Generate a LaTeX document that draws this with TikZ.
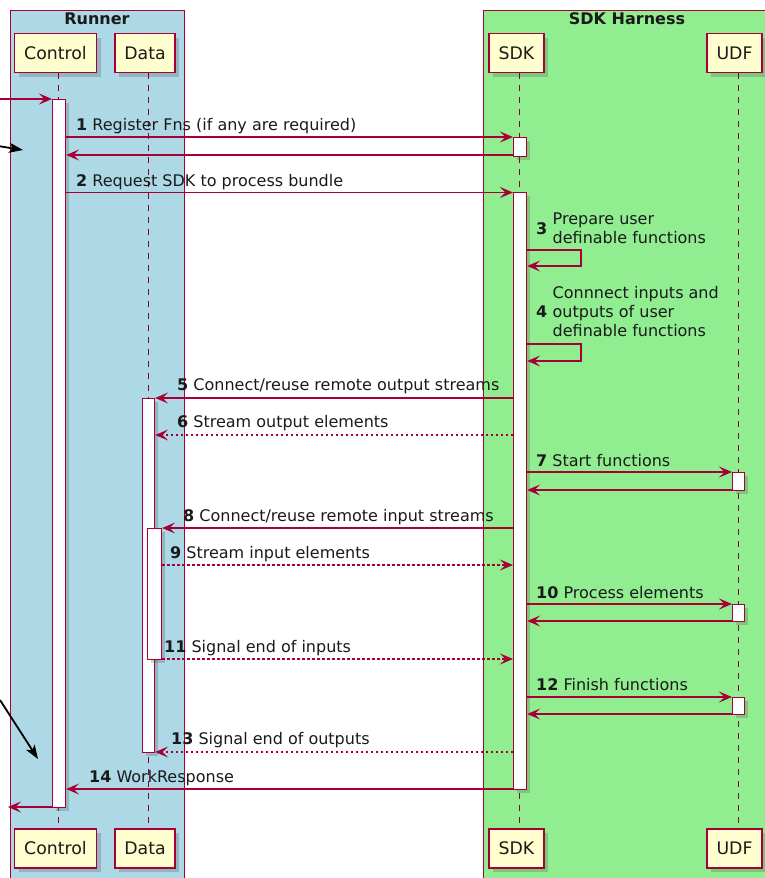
\documentclass[tikz,border=0pt]{standalone}
\usepackage{fontspec}
\setmainfont{DejaVu Sans}
\usetikzlibrary{arrows.meta,shadows}

\definecolor{umlred}{HTML}{A80036}
\definecolor{umlbox}{HTML}{FEFECE}
\definecolor{runnerbg}{HTML}{ADD8E6}
\definecolor{harnessbg}{HTML}{90EE90}
\definecolor{inktext}{HTML}{1A1A1A}

\tikzset{
  groupbox/.style={draw=umlred, line width=1pt},
  grouptitle/.style={inner sep=0pt, text=inktext, font=\bfseries\fontsize{16}{19}\selectfont},
  pbox/.style={draw=umlred, fill=umlbox, line width=1.6pt, minimum height=39pt,
    inner sep=0pt, text=inktext, font=\fontsize{17.3}{20}\selectfont,
    drop shadow={shadow xshift=4pt, shadow yshift=-4pt, opacity=0.25, fill=black!70}},
  lifeline/.style={draw=umlred!85!black, line width=1pt, dash pattern=on 6pt off 6pt},
  actbar/.style={draw=umlred, fill=white, line width=1.2pt, minimum width=13pt,
    inner sep=0pt, anchor=north west,
    drop shadow={shadow xshift=3pt, shadow yshift=-3pt, opacity=0.25, fill=black!70}},
  msg/.style={draw=umlred, line width=1.2pt,
    -{Stealth[length=13pt,width=11pt,inset=5.5pt]}},
  reply/.style={msg, dash pattern=on 2.5pt off 2.5pt},
  lbl/.style={anchor=base west, inner sep=0pt, text=inktext, font=\fontsize{16}{19}\selectfont},
  blk/.style={anchor=west, inner sep=0pt, align=left, text=inktext, font=\fontsize{16}{19}\selectfont},
  notearrow/.style={draw=black, line width=1.8pt,
    -{Stealth[length=14pt,width=10pt,inset=3.5pt]}},
}

\begin{document}
\begin{tikzpicture}[x=1pt,y=-1pt]
\useasboundingbox (0,0) rectangle (765,878);
\clip (0,0) rectangle (765,878);

% group boxes
\draw[groupbox, fill=runnerbg] (10,10) rectangle (184,900);
\draw[groupbox, fill=harnessbg] (483,10) rectangle (800,900);
\node[grouptitle] (runnertitle) at (97,19) {Runner};
\node[grouptitle] (harnesstitle) at (627,19) {SDK Harness};

% participants, top and bottom
\node[pbox, minimum width=82pt] (ctltop) at (55.5,53) {Control};
\node[pbox, minimum width=60pt] (datatop) at (145,53) {Data};
\node[pbox, minimum width=55pt] (sdktop) at (516.5,53) {SDK};
\node[pbox, minimum width=55pt] (udftop) at (734.5,53) {UDF};
\node[pbox, minimum width=82pt] (ctlbot) at (55.5,848.5) {Control};
\node[pbox, minimum width=60pt] (databot) at (145,848.5) {Data};
\node[pbox, minimum width=55pt] (sdkbot) at (516.5,848.5) {SDK};
\node[pbox, minimum width=55pt] (udfbot) at (734.5,848.5) {UDF};

% lifelines
\coordinate (ctlx) at (58.5,0);
\coordinate (datax) at (148,0);
\coordinate (sdkx) at (519.5,0);
\coordinate (udfx) at (738,0);
\draw[lifeline] (ctltop.south -| ctlx) -- (ctlbot.north -| ctlx);
\draw[lifeline] (datatop.south -| datax) -- (databot.north -| datax);
\draw[lifeline] (sdktop.south -| sdkx) -- (sdkbot.north -| sdkx);
\draw[lifeline] (udftop.south -| udfx) -- (udfbot.north -| udfx);

% activations
\node[actbar, minimum height=708pt] (ctlbar) at (52,99) {};
\node[actbar, minimum height=354pt, minimum width=12pt] (databar) at (142,398) {};
\node[actbar, minimum height=131pt, minimum width=14pt] (databarb) at (147,528) {};
\node[actbar, minimum height=19pt] (sdkbara) at (513,137) {};
\node[actbar, minimum height=597pt] (sdkbarb) at (513,192) {};
\node[actbar, minimum height=18pt, minimum width=12pt] (udfbara) at (732,472) {};
\node[actbar, minimum height=17pt, minimum width=12pt] (udfbarb) at (732,604) {};
\node[actbar, minimum height=17pt, minimum width=12pt] (udfbarc) at (732,697) {};

% messages
\coordinate (entry) at (0,99);
\coordinate (exit) at (8,807);
\draw[msg] (entry) -- (ctlbar.west |- entry);

\draw[msg] (ctlbar.east |- 0,137) -- (sdkbara.west |- 0,137);
\node[lbl] at (76,130) {\textbf{1} Register Fns (if any are required)};
\draw[msg] (sdkbara.west |- 0,155) -- (ctlbar.east |- 0,155);

\draw[msg] (ctlbar.east |- 0,192.5) -- (sdkbarb.west |- 0,192.5);
\node[lbl] at (76,186) {\textbf{2} Request SDK to process bundle};

\draw[msg] (sdkbarb.east |- 0,250) -- (581,250) -- (581,266) -- (sdkbarb.east |- 0,266);
\node[blk] at (536,228.5) {\textbf{3}};
\node[blk] at (552.5,228.5) {Prepare user\\definable functions};

\draw[msg] (sdkbarb.east |- 0,344) -- (581,344) -- (581,361) -- (sdkbarb.east |- 0,361);
\node[blk] at (536,312) {\textbf{4}};
\node[blk] at (552.5,312) {Connnect inputs and\\outputs of user\\definable functions};

\draw[msg] (sdkbarb.west |- 0,398) -- (databar.east |- 0,398);
\node[lbl] at (177,390) {\textbf{5} Connect/reuse remote output streams};

\draw[reply] (sdkbarb.west |- 0,435) -- (databar.east |- 0,435);
\node[lbl] at (177,427) {\textbf{6} Stream output elements};

\draw[msg] (sdkbarb.east |- 0,472) -- (udfbara.west |- 0,472);
\node[lbl] at (536,466) {\textbf{7} Start functions};
\draw[msg] (udfbara.west |- 0,490) -- (sdkbarb.east |- 0,490);

\draw[msg] (sdkbarb.west |- 0,528) -- (databarb.east |- 0,528);
\node[lbl] at (183,521) {\textbf{8} Connect/reuse remote input streams};

\draw[reply] (databarb.east |- 0,565) -- (sdkbarb.west |- 0,565);
\node[lbl] at (170,558) {\textbf{9} Stream input elements};

\draw[msg] (sdkbarb.east |- 0,604) -- (udfbarb.west |- 0,604);
\node[lbl] at (536,598) {\textbf{10} Process elements};
\draw[msg] (udfbarb.west |- 0,621) -- (sdkbarb.east |- 0,621);

\draw[reply] (databarb.east |- 0,659) -- (sdkbarb.west |- 0,659);
\node[lbl] at (164,652) {\textbf{11} Signal end of inputs};

\draw[msg] (sdkbarb.east |- 0,697) -- (udfbarc.west |- 0,697);
\node[lbl] at (536,690) {\textbf{12} Finish functions};
\draw[msg] (udfbarc.west |- 0,714) -- (sdkbarb.east |- 0,714);

\draw[reply] (sdkbarb.west |- 0,752) -- (databar.east |- 0,752);
\node[lbl] at (171,744) {\textbf{13} Signal end of outputs};

\draw[msg] (sdkbarb.west |- 0,789) -- (ctlbar.east |- 0,789);
\node[lbl] at (89,782) {\textbf{14} WorkResponse};

\draw[msg] (ctlbar.west |- exit) -- (exit);

% hand-drawn pointers
\coordinate (pa) at (-2,146);
\coordinate (pb) at (23,150);
\coordinate (pc) at (0,700);
\coordinate (pd) at (38,759);
\draw[notearrow] (pa) -- (pb);
\draw[notearrow] (pc) -- (pd);
\end{tikzpicture}
\end{document}
